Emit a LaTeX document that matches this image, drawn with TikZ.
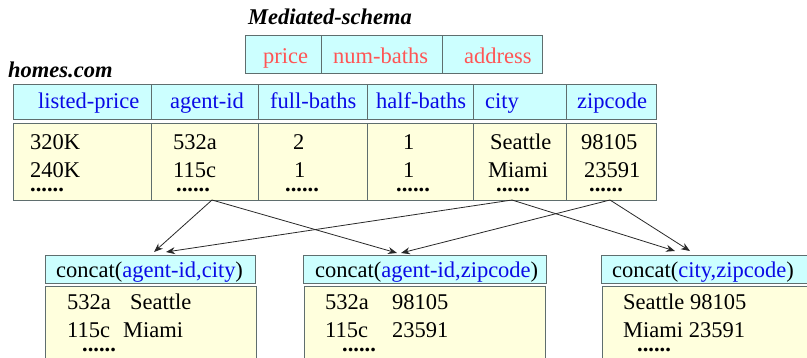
\documentclass[tikz,border=0pt]{standalone}
\usepackage{fontspec}
\setmainfont{Liberation Serif}
\usetikzlibrary{arrows.meta}
\definecolor{hdrfill}{RGB}{204,255,255}
\definecolor{datfill}{RGB}{255,255,221}
\definecolor{edge}{RGB}{95,110,110}
\definecolor{bluetxt}{RGB}{10,10,230}
\definecolor{redtxt}{RGB}{255,85,85}
\definecolor{arrcol}{RGB}{40,40,40}
\tikzset{
  cell/.style={draw=edge, line width=1.3pt, inner sep=0, anchor=north west, minimum height=#1},
  hcell/.style={cell=35pt, fill=hdrfill},
  dcell/.style={cell=77pt, fill=datfill},
  mcell/.style={cell=38pt, fill=hdrfill},
  bhcell/.style={cell=28pt, fill=hdrfill},
  bdcell/.style={cell=76pt, fill=datfill},
  txt/.style={inner sep=0, anchor=base west, font=\fontsize{22.5}{27}\selectfont},
  dots/.style={inner sep=0, anchor=base west, font=\fontsize{22.5}{27}\selectfont\bfseries},
  ttl/.style={txt, font=\fontsize{22.5}{27}\selectfont\bfseries\itshape},
  htxt/.style={txt, text=bluetxt},
  mtxt/.style={txt, text=redtxt},
  arr/.style={draw=arrcol, line width=0.8pt, -{Stealth[length=9pt,width=7pt]}}
}
\begin{document}
\begin{tikzpicture}[x=1pt,y=-1pt]
\useasboundingbox (0,0) rectangle (807,357);
% titles
\node[ttl] (tmed) at (248,24) {Mediated-schema};
\node[ttl] (thomes) at (8,77) {homes.com};
% mediated schema
\node[mcell, minimum width=76pt] (m1) at (245,35) {};
\node[mcell, minimum width=121pt] (m2) at (321,35) {};
\node[mcell, minimum width=100pt] (m3) at (442,35) {};
\node[mtxt] (mt1) at (263,63) {price};
\node[mtxt] (mt2) at (333,63) {num-baths};
\node[mtxt] (mt3) at (464,63) {address};
% homes header
\node[hcell, minimum width=138pt] (h1) at (13,84) {};
\node[hcell, minimum width=107pt] (h2) at (151,84) {};
\node[hcell, minimum width=109pt] (h3) at (258,84) {};
\node[hcell, minimum width=106pt] (h4) at (367,84) {};
\node[hcell, minimum width=93pt] (h5) at (473,84) {};
\node[hcell, minimum width=90pt] (h6) at (566,84) {};
\node[htxt] (ht1) at (38,108.5) {listed-price};
\node[htxt] (ht2) at (170,108.5) {agent-id};
\node[htxt] (ht3) at (270,108.5) {full-baths};
\node[htxt] (ht4) at (376,108.5) {half-baths};
\node[htxt] (ht5) at (485,108.5) {city};
\node[htxt] (ht6) at (577,108.5) {zipcode};
% homes data
\node[dcell, minimum width=138pt] (d1) at (13,123) {};
\node[dcell, minimum width=107pt] (d2) at (151,123) {};
\node[dcell, minimum width=109pt] (d3) at (258,123) {};
\node[dcell, minimum width=106pt] (d4) at (367,123) {};
\node[dcell, minimum width=93pt] (d5) at (473,123) {};
\node[dcell, minimum width=90pt] (d6) at (566,123) {};
\node[txt] (a1) at (30,149) {320K};
\node[txt] (a2) at (30,177) {240K};
\node[dots] (a3) at (30,191) {......};
\node[txt] (b1) at (173,149) {532a};
\node[txt] (b2) at (173,177) {115c};
\node[dots] (b3) at (176,191) {......};
\node[txt] (c1) at (293,149) {2};
\node[txt] (c2) at (294,177) {1};
\node[dots] (c3) at (285,191) {......};
\node[txt] (e1) at (403,149) {1};
\node[txt] (e2) at (403,177) {1};
\node[dots] (e3) at (396,191) {......};
\node[txt] (f1) at (490,149) {Seattle};
\node[txt] (f2) at (488,177) {Miami};
\node[dots] (f3) at (496,191) {......};
\node[txt] (g1) at (581,149) {98105};
\node[txt] (g2) at (584,177) {23591};
\node[dots] (g3) at (589,191) {......};
% bottom boxes
\node[bhcell, minimum width=210pt] (p1h) at (45,255) {};
\node[bdcell, minimum width=211pt] (p1d) at (45,286) {};
\node[bhcell, minimum width=243pt] (p2h) at (303,255) {};
\node[bdcell, minimum width=241pt] (p2d) at (304,286) {};
\node[bhcell, minimum width=212pt] (p3h) at (601,255) {};
\node[bdcell, minimum width=211pt] (p3d) at (602,286) {};
\node[txt] (q1) at (56,277) {concat(\textcolor{bluetxt}{agent-id,city})};
\node[txt] (q2) at (315,277) {concat(\textcolor{bluetxt}{agent-id,zipcode})};
\node[txt] (q3) at (612,277) {concat(\textcolor{bluetxt}{city,zipcode})};
\node[txt] (r11) at (67,309) {532a};
\node[txt] (r12) at (130,309) {Seattle};
\node[txt] (r13) at (67,337) {115c};
\node[txt] (r14) at (123,337) {Miami};
\node[dots] (r15) at (82,351) {......};
\node[txt] (r21) at (325,309) {532a};
\node[txt] (r22) at (392,309) {98105};
\node[txt] (r23) at (325,337) {115c};
\node[txt] (r24) at (392,337) {23591};
\node[dots] (r25) at (342,351) {......};
\node[txt] (r31) at (623,309) {Seattle 98105};
\node[txt] (r32) at (623,337) {Miami 23591};
\node[dots] (r33) at (637,351) {......};
% connectors
\coordinate (oA) at (212,200);
\coordinate (oC) at (512,200);
\coordinate (oZ) at (610,200);
\coordinate (tA1) at (154,252);
\coordinate (tC1) at (166,252);
\coordinate (tA2) at (397,253);
\coordinate (tZ2) at (401,253);
\coordinate (tC3) at (675,251);
\coordinate (tZ3) at (690,251);
\draw[arr] (oA) -- (tA1);
\draw[arr] (oA) -- (tA2);
\draw[arr] (oC) -- (tC1);
\draw[arr] (oC) -- (tC3);
\draw[arr] (oZ) -- (tZ2);
\draw[arr] (oZ) -- (tZ3);
\end{tikzpicture}
\end{document}
